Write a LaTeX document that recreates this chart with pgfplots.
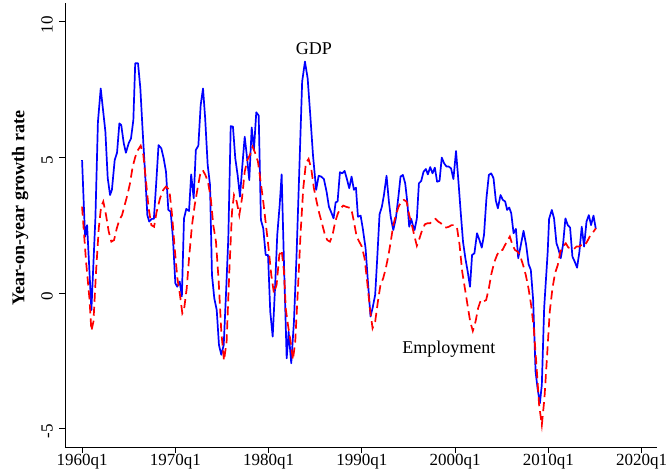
\documentclass[border=0pt]{standalone}
\usepackage{fontspec}
\setmainfont{Liberation Serif}
\usepackage{pgfplots}
\usepackage{pgfplotstable}
\pgfplotsset{compat=1.18}
\pgfplotstableread{
t v
1960.00 4.90
1960.32 2.07
1960.54 2.50
1961.00 -0.63
1961.43 2.76
1961.70 6.30
1962.00 7.54
1962.50 5.95
1962.75 4.24
1963.00 3.61
1963.20 3.80
1963.50 4.90
1963.75 5.17
1964.00 6.25
1964.20 6.19
1964.47 5.52
1964.70 5.17
1965.00 5.52
1965.25 5.70
1965.50 6.38
1965.70 8.47
1966.00 8.47
1966.25 7.54
1966.50 5.95
1966.75 4.47
1967.00 2.87
1967.20 2.63
1967.47 2.73
1967.70 2.73
1967.96 4.10
1968.20 5.45
1968.50 5.33
1968.75 4.96
1969.00 4.47
1969.25 3.06
1969.50 3.00
1969.75 2.00
1970.00 0.36
1970.20 0.23
1970.47 0.42
1970.70 -0.13
1970.93 2.75
1971.18 3.10
1971.47 3.02
1971.70 4.37
1971.97 3.49
1972.20 5.27
1972.47 5.43
1972.72 6.93
1972.97 7.54
1973.20 6.44
1973.47 4.72
1973.72 3.98
1973.93 0.66
1974.18 -0.20
1974.44 -0.63
1974.68 -1.92
1974.93 -2.28
1975.19 -1.92
1975.43 -0.07
1975.68 2.00
1975.94 6.15
1976.18 6.13
1976.43 4.96
1976.68 4.35
1976.93 3.55
1977.18 4.66
1977.44 5.76
1977.68 5.02
1977.93 4.16
1978.19 6.10
1978.43 5.27
1978.68 6.66
1978.94 6.54
1979.18 2.69
1979.43 2.38
1979.69 1.40
1979.94 1.40
1980.18 -0.69
1980.44 -1.61
1980.69 0.17
1980.93 2.14
1981.19 3.24
1981.40 4.37
1981.65 1.10
1981.94 -2.41
1982.15 -1.43
1982.43 -2.59
1982.72 -1.06
1983.00 1.40
1983.29 4.47
1983.60 7.79
1983.90 8.53
1984.19 7.91
1984.47 6.56
1984.76 5.09
1985.10 3.80
1985.37 4.32
1985.64 4.29
1985.93 4.20
1986.22 3.73
1986.47 3.18
1986.72 2.97
1986.97 2.75
1987.19 3.34
1987.40 3.37
1987.65 4.45
1987.90 4.41
1988.15 4.50
1988.40 4.20
1988.65 3.86
1988.90 4.29
1989.15 3.80
1989.37 3.88
1989.58 2.81
1989.87 2.85
1990.10 2.38
1990.40 1.65
1990.65 0.42
1990.93 -0.87
1991.15 -0.56
1991.43 -0.07
1991.65 1.28
1991.90 2.90
1992.15 3.18
1992.37 3.61
1992.65 4.32
1992.90 3.37
1993.10 2.80
1993.37 2.32
1993.65 2.75
1993.94 3.61
1994.15 4.29
1994.40 4.35
1994.65 4.04
1994.87 3.37
1995.08 2.44
1995.29 2.73
1995.47 2.50
1995.65 2.32
1995.90 2.75
1996.12 4.04
1996.37 4.13
1996.62 4.47
1996.87 4.57
1997.08 4.37
1997.33 4.64
1997.58 4.41
1997.83 4.62
1998.07 4.10
1998.33 4.13
1998.57 4.99
1998.82 4.78
1999.08 4.66
1999.32 4.66
1999.57 4.59
1999.82 4.20
2000.10 5.23
2000.36 4.10
2000.61 2.94
2000.85 1.89
2001.10 1.28
2001.35 0.79
2001.60 0.23
2001.82 1.40
2002.07 1.46
2002.35 2.20
2002.61 1.95
2002.86 1.67
2003.10 2.14
2003.36 3.49
2003.62 4.35
2003.87 4.41
2004.12 4.23
2004.37 3.40
2004.59 3.12
2004.87 3.61
2005.12 3.43
2005.37 3.37
2005.58 3.06
2005.80 3.15
2006.02 2.94
2006.27 2.20
2006.52 2.36
2006.77 1.28
2007.05 1.77
2007.34 2.29
2007.62 1.77
2007.88 1.06
2008.12 0.85
2008.37 -0.26
2008.63 -2.90
2008.84 -3.51
2009.09 -4.07
2009.30 -3.39
2009.55 -0.56
2009.93 1.52
2010.08 2.73
2010.37 3.06
2010.61 2.75
2010.87 1.83
2011.08 1.62
2011.33 1.28
2011.57 1.77
2011.83 2.75
2012.08 2.50
2012.33 2.41
2012.58 1.34
2012.83 1.15
2013.08 0.93
2013.33 1.52
2013.58 2.44
2013.83 1.71
2014.09 2.63
2014.34 2.87
2014.58 2.50
2014.84 2.85
2015.09 2.36
}\gdp
\pgfplotstableread{
t v
1960.00 3.18
1960.43 1.15
1960.79 -0.20
1961.00 -1.40
1961.22 -1.06
1961.50 0.79
1961.79 2.38
1962.04 3.18
1962.28 3.37
1962.57 2.87
1962.86 2.26
1963.14 1.89
1963.43 1.95
1963.72 2.38
1964.00 2.69
1964.29 2.87
1964.57 3.24
1964.86 3.61
1965.14 4.04
1965.43 4.66
1965.71 5.02
1966.00 5.27
1966.29 5.43
1966.57 5.09
1966.86 4.10
1967.14 3.12
1967.43 2.50
1967.72 2.44
1968.00 3.00
1968.36 3.49
1968.71 3.80
1969.00 3.92
1969.36 3.80
1969.65 2.87
1969.93 1.65
1970.22 0.54
1970.50 -0.07
1970.75 -0.75
1970.93 -0.63
1971.22 0.17
1971.50 1.40
1971.79 2.50
1972.08 3.24
1972.36 3.80
1972.65 4.35
1972.94 4.53
1973.22 4.35
1973.50 4.10
1973.80 3.49
1974.07 2.50
1974.36 1.89
1974.65 0.42
1974.93 -1.43
1975.22 -2.50
1975.50 -1.79
1975.79 0.79
1976.08 3.00
1976.29 3.61
1976.58 3.37
1976.86 2.87
1977.15 3.49
1977.44 4.47
1977.72 4.90
1978.00 5.09
1978.29 5.39
1978.57 5.15
1978.86 4.84
1979.15 4.10
1979.43 3.37
1979.72 2.50
1980.00 1.65
1980.29 0.66
1980.57 -0.01
1980.86 0.30
1981.15 1.40
1981.40 1.58
1981.65 0.79
1981.85 -0.60
1982.08 -1.18
1982.36 -1.79
1982.61 -2.47
1982.86 -1.79
1983.15 0.17
1983.44 2.26
1983.72 3.86
1984.00 4.78
1984.29 4.94
1984.57 4.59
1984.86 3.86
1985.15 3.37
1985.43 2.94
1985.72 2.57
1986.00 2.20
1986.29 1.95
1986.58 1.89
1986.86 2.14
1987.15 2.63
1987.44 2.94
1987.72 3.12
1988.00 3.22
1988.29 3.18
1988.58 3.15
1988.86 3.12
1989.15 2.63
1989.44 2.08
1989.72 1.89
1990.00 1.71
1990.29 1.28
1990.57 0.42
1990.86 -0.56
1991.15 -1.30
1991.43 -1.06
1991.72 -0.32
1992.00 0.30
1992.29 0.54
1992.57 0.91
1992.86 1.40
1993.10 1.89
1993.37 2.50
1993.65 2.87
1993.94 3.18
1994.22 3.37
1994.51 3.43
1994.80 3.37
1995.08 2.87
1995.37 2.50
1995.65 2.08
1995.90 1.74
1996.18 2.01
1996.47 2.32
1996.76 2.53
1997.04 2.57
1997.33 2.57
1997.62 2.69
1997.90 2.73
1998.19 2.63
1998.48 2.57
1998.76 2.44
1999.05 2.41
1999.33 2.44
1999.62 2.50
1999.90 2.50
2000.19 2.44
2000.48 1.77
2000.76 0.79
2001.05 0.17
2001.33 -0.44
2001.62 -1.06
2001.90 -1.40
2002.19 -1.06
2002.47 -0.56
2002.76 -0.26
2003.05 -0.32
2003.33 -0.26
2003.62 0.17
2003.90 0.72
2004.22 1.15
2004.50 1.40
2004.79 1.58
2005.08 1.58
2005.36 1.77
2005.65 1.95
2005.87 2.08
2006.15 1.77
2006.43 1.58
2006.72 1.52
2007.00 1.34
2007.29 1.03
2007.58 0.66
2007.87 0.17
2008.15 -0.44
2008.44 -1.30
2008.72 -2.65
2009.01 -4.13
2009.30 -4.87
2009.58 -3.88
2009.87 -2.28
2010.15 -0.69
2010.44 0.17
2010.72 0.73
2011.01 1.03
2011.29 1.52
2011.58 1.71
2011.87 1.83
2012.15 1.67
2012.44 1.65
2012.72 1.61
2013.01 1.71
2013.29 1.71
2013.58 1.77
2013.86 1.74
2014.15 1.89
2014.44 2.08
2014.72 2.20
2015.09 2.38
}\emp
\begin{document}
\fontsize{18}{21}\selectfont
\begin{tikzpicture}
\useasboundingbox (0,0) rectangle (666pt,473pt);
\begin{axis}[
  at={(65pt,26pt)}, anchor=south west,
  scale only axis, width=592pt, height=444pt,
  xmin=1958.17, xmax=2021.65, ymin=-5.68, ymax=10.69,
  axis lines*=left,
  axis line style={black, line width=0.8pt},
  tick style={black, line width=0.8pt},
  tick align=outside, major tick length=6pt,
  xtick={1960,1970,1980,1990,2000,2010,2020},
  xticklabels={1960q1,1970q1,1980q1,1990q1,2000q1,2010q1,2020q1},
  ytick={-5,0,5,10},
  yticklabels={-5,0,5,10},
  tick label style={font=\fontsize{17}{20}\selectfont},
  xticklabel style={yshift=5pt},
  yticklabel style={rotate=90, anchor=south, xshift=-3pt},
  ylabel={\textbf{Year-on-year growth rate}},
  ylabel style={at={(axis description cs:-0.076,0.538)}, anchor=center, font=\fontsize{18}{21}\selectfont},
  clip=false,
]
\addplot[color={rgb,255:red,0;green,0;blue,255}, line width=1.7pt, line join=round] table[x=t,y=v] {\gdp};
\addplot[color={rgb,255:red,255;green,0;blue,0}, line width=1.7pt, dash pattern=on 9pt off 5pt] table[x=t,y=v] {\emp};
\node[font=\fontsize{18}{21}\selectfont] at (axis cs:1984.87,9.0) {GDP};
\node[font=\fontsize{18}{21}\selectfont] at (axis cs:1999.33,-2.06) {Employment};
\end{axis}
\end{tikzpicture}
\end{document}
